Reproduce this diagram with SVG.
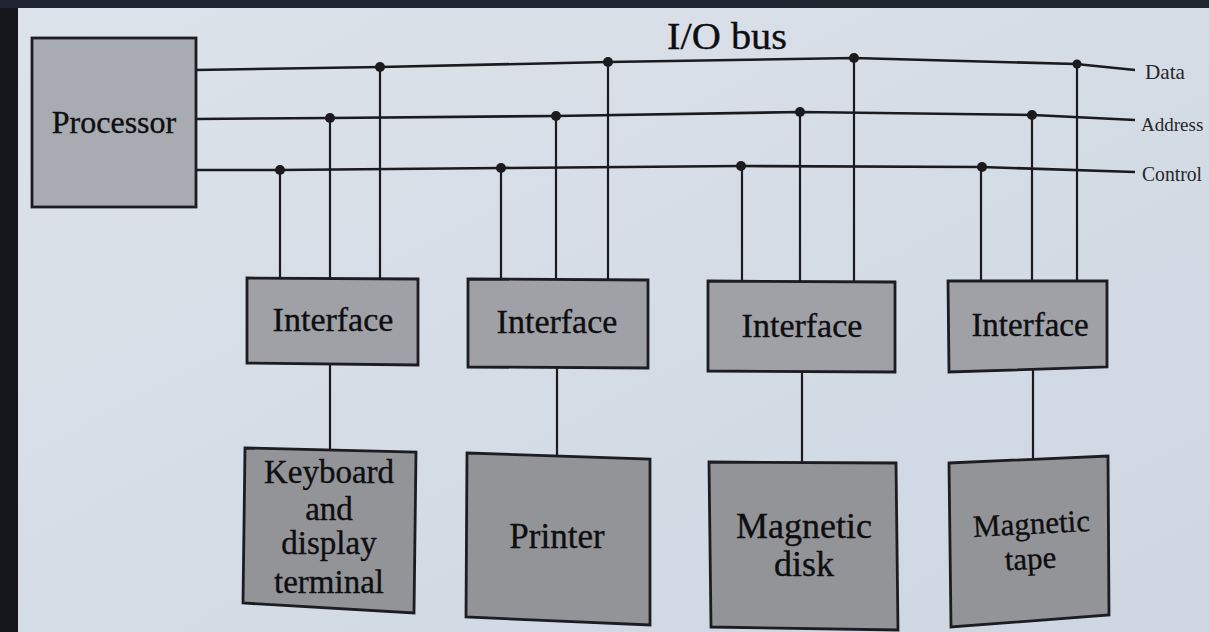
<svg xmlns="http://www.w3.org/2000/svg" width="1209" height="632" viewBox="0 0 1209 632">
<defs>
<linearGradient id="bg" x1="0" y1="0" x2="1" y2="1">
<stop offset="0" stop-color="#dde3ea"/>
<stop offset="1" stop-color="#cdd6e2"/>
</linearGradient>
<style>
.bus{fill:none;stroke:#1a1a1f;stroke-width:2.6;stroke-linejoin:round}
.wire{stroke:#1a1a1f;stroke-width:2.2}
.dot{fill:#1a1a1f}
.box{stroke:#1c1c22;stroke-width:2.8}
.iface{fill:#9fa1a6}
.dev{fill:#939498}
.lbl{font-family:"Liberation Serif","DejaVu Serif",serif;fill:#0e0e10;text-anchor:middle;stroke:#0e0e10;stroke-width:0.35}
.bl{font-family:"Liberation Serif","DejaVu Serif",serif;fill:#26262a;font-size:22px}
</style>
</defs>
<rect width="1209" height="632" fill="url(#bg)"/>
<rect x="0" y="0" width="18" height="632" fill="#15171c"/>
<rect x="0" y="0" width="1209" height="8" fill="#1e2430"/>

<g id="connectors">
<polyline class="bus" points="196,70 380,67 608,62 854,58 1076,64 1135,70"/>
<polyline class="bus" points="196,119 330,118 555,116 800,112 1033,115 1135,120"/>
<polyline class="bus" points="196,170 280,170 501,168 741,166 982,167 1135,172"/>
<line class="wire" x1="280" y1="170" x2="280" y2="278"/>
<line class="wire" x1="330" y1="118" x2="330" y2="278"/>
<line class="wire" x1="380" y1="67" x2="380" y2="278"/>
<line class="wire" x1="501" y1="168" x2="501" y2="279"/>
<line class="wire" x1="556" y1="116" x2="556" y2="279"/>
<line class="wire" x1="608" y1="62" x2="608" y2="279"/>
<line class="wire" x1="742" y1="166" x2="742" y2="281"/>
<line class="wire" x1="800" y1="112" x2="800" y2="281"/>
<line class="wire" x1="854" y1="58" x2="854" y2="281"/>
<line class="wire" x1="981" y1="167" x2="981" y2="281"/>
<line class="wire" x1="1032" y1="115" x2="1032" y2="281"/>
<line class="wire" x1="1077" y1="64" x2="1077" y2="281"/>
<line class="wire" x1="330" y1="364" x2="330" y2="449"/>
<line class="wire" x1="557" y1="367" x2="557" y2="455"/>
<line class="wire" x1="802" y1="372" x2="802" y2="462"/>
<line class="wire" x1="1033" y1="369" x2="1033" y2="458"/>
<circle class="dot" cx="380" cy="67" r="5"/>
<circle class="dot" cx="608" cy="62" r="5"/>
<circle class="dot" cx="854" cy="58" r="5"/>
<circle class="dot" cx="1077" cy="64" r="4.5"/>
<circle class="dot" cx="330" cy="118" r="5"/>
<circle class="dot" cx="556" cy="116" r="5"/>
<circle class="dot" cx="800" cy="112" r="5"/>
<circle class="dot" cx="1032" cy="115" r="5"/>
<circle class="dot" cx="280" cy="170" r="5"/>
<circle class="dot" cx="501" cy="168" r="5"/>
<circle class="dot" cx="741" cy="166" r="5"/>
<circle class="dot" cx="982" cy="167" r="5"/>
</g>

<g id="bus-labels">
<text class="lbl" x="727" y="49" font-size="37" textLength="120" lengthAdjust="spacingAndGlyphs">I/O bus</text>
<text class="bl" x="1145" y="79" textLength="40" lengthAdjust="spacingAndGlyphs">Data</text>
<text class="bl" x="1141" y="131" font-size="19" style="font-size:19px">Address</text>
<text class="bl" x="1142" y="181" textLength="60" lengthAdjust="spacingAndGlyphs">Control</text>
</g>

<g id="processor">
<rect class="box" x="32" y="38" width="164" height="169" fill="#a8abb1"/>
<text class="lbl" x="114" y="133" font-size="32">Processor</text>
</g>

<g id="interface1">
<polygon class="box iface" points="247,278 418,279 418,365 247,363"/>
<text class="lbl" x="333" y="331" font-size="34">Interface</text>
</g>
<g id="interface2">
<polygon class="box iface" points="468,279 648,280 648,368 468,367"/>
<text class="lbl" x="557" y="333" font-size="34">Interface</text>
</g>
<g id="interface3">
<polygon class="box iface" points="708,281 895,282 895,372 708,371"/>
<text class="lbl" x="802" y="337" font-size="34">Interface</text>
</g>
<g id="interface4">
<polygon class="box iface" points="948,281 1107,281 1107,367 949,372"/>
<text class="lbl" x="1030" y="336" font-size="33">Interface</text>
</g>

<g id="keyboard">
<polygon class="box dev" points="245,448 416,452 414,613 243,603"/>
<text class="lbl" x="329" y="483" font-size="33">Keyboard</text>
<text class="lbl" x="329" y="520" font-size="33">and</text>
<text class="lbl" x="329" y="554" font-size="33">display</text>
<text class="lbl" x="329" y="593" font-size="33">terminal</text>
</g>
<g id="printer">
<polygon class="box dev" points="467,453 650,459 650,625 466,617"/>
<text class="lbl" x="557" y="548" font-size="35">Printer</text>
</g>
<g id="disk">
<polygon class="box dev" points="709,462 896,463 898,630 711,627"/>
<text class="lbl" x="804" y="538" font-size="36">Magnetic</text>
<text class="lbl" x="804" y="576" font-size="36">disk</text>
</g>
<g id="tape">
<polygon class="box dev" points="949,463 1108,456 1109,615 951,627"/>
<text class="lbl" x="1032" y="534" font-size="31" transform="rotate(-3 1032 534)">Magnetic</text>
<text class="lbl" x="1031" y="569" font-size="31" transform="rotate(-3 1031 569)">tape</text>
</g>
</svg>
